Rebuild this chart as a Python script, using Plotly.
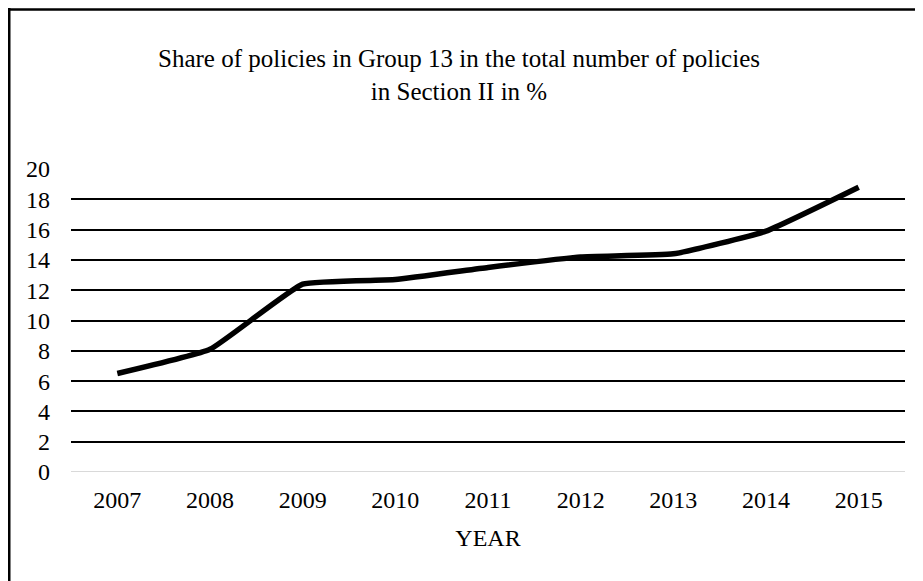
import plotly.graph_objects as go

years = ["2007", "2008", "2009", "2010", "2011", "2012", "2013", "2014", "2015"]
share = [6.5, 8.1, 12.4, 12.7, 13.5, 14.2, 14.4, 15.9, 18.8]
y_ticks = [0, 2, 4, 6, 8, 10, 12, 14, 16, 18, 20]

# page has an 8px body margin, so the figure is 8px smaller than the window
W, H = 915, 573
L, R, T, B = 63, 18, 161, 109
pw, ph = W - L - R, H - T - B

def px(x):
    return (x - L) / pw

def py(y):
    return (H - B - y) / ph

fig = go.Figure()
fig.add_trace(go.Scatter(
    x=years, y=share, mode="lines",
    line=dict(color="black", width=5.5, shape="spline", smoothing=0.35),
    showlegend=False, hoverinfo="skip"))

font = "Liberation Serif"
fig.update_layout(
    width=W, height=H,
    margin=dict(l=L, r=R, t=T, b=B),
    paper_bgcolor="white", plot_bgcolor="white",
    font=dict(family=font, color="black", size=24),
    title=dict(text="Share of policies in Group 13 in the total number of policies<br>in Section II in %",
               x=451 / W, xanchor="center", xref="container",
               y=1 - 59 / H, yanchor="top", yref="container",
               font=dict(family=font, size=25, color="black")),
    xaxis=dict(type="category", range=[-0.5, 8.5], showgrid=False, showline=False,
               ticks="", tickfont=dict(family=font, size=24), ticklabelstandoff=11,
               title=dict(text="YEAR", font=dict(family=font, size=24), standoff=17)),
    yaxis=dict(range=[0, 20], tickvals=y_ticks, showgrid=True, gridcolor="black", gridwidth=1.5,
               zeroline=False, showline=False, ticks="", tickfont=dict(family=font, size=24),
               ticklabelstandoff=20, fixedrange=True),
    shapes=[
        dict(type="line", xref="paper", yref="paper", x0=px(0), x1=px(W + 10), y0=py(1.5), y1=py(1.5),
             line=dict(color="black", width=2.5)),
        dict(type="line", xref="paper", yref="paper", x0=px(1.25), x1=px(1.25), y0=py(0), y1=py(H + 10),
             line=dict(color="black", width=2.5)),
        dict(type="line", xref="paper", yref="y", x0=0, x1=1, y0=0, y1=0,
             line=dict(color="#d9d9d9", width=2), layer="below"),
    ],
)
fig.write_html("out.html")
